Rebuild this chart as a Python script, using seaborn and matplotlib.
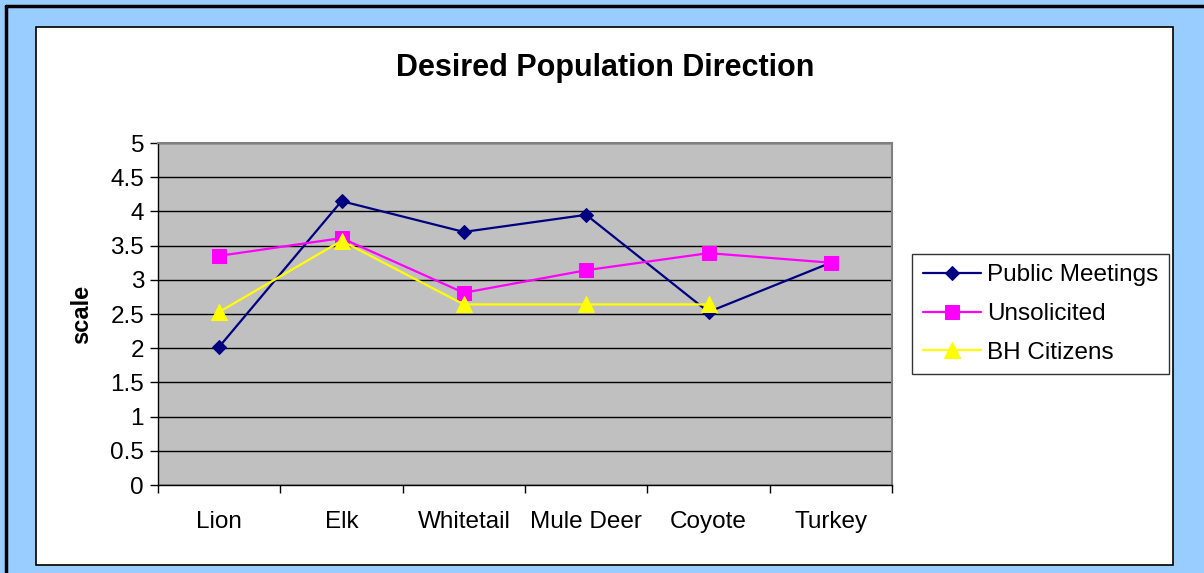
import matplotlib.pyplot as plt
import matplotlib.patches as mpatches
import numpy as np
import pandas as pd
import seaborn as sns

# Chart data
species = ["Lion", "Elk", "Whitetail", "Mule Deer", "Coyote", "Turkey"]
public_meetings = [2.02, 4.15, 3.70, 3.95, 2.53, 3.25]
unsolicited = [3.35, 3.61, 2.81, 3.14, 3.39, 3.25]
bh_citizens = [2.53, 3.57, 2.64, 2.64, 2.64, np.nan]

series_names = ["Public Meetings", "Unsolicited", "BH Citizens"]
series_colors = ["#000080", "#FF00FF", "#FFFF00"]
series_markers = ["D", "s", "^"]
marker_sizes = [7.5, 9.5, 11]

sns.set_theme(style="white")
plt.rcParams["font.family"] = ["Liberation Sans", "DejaVu Sans"]
plt.rcParams["text.color"] = "black"
plt.rcParams["xtick.color"] = "black"
plt.rcParams["ytick.color"] = "black"
plt.rcParams["axes.labelcolor"] = "black"

fig = plt.figure(figsize=(12.04, 5.73), dpi=100)
W, H = 1204, 573

# outer blue frame + inner white panel
fig.patch.set_facecolor("#99CCFF")
fig.add_artist(plt.Line2D([6 / W, 6 / W], [0, 1 - 6 / H], color="black", lw=2.5, transform=fig.transFigure))
fig.add_artist(plt.Line2D([6 / W, 1], [1 - 6 / H, 1 - 6 / H], color="black", lw=2.5, transform=fig.transFigure))
fig.add_artist(mpatches.Rectangle((36 / W, 1 - 565 / H), (1173 - 36) / W, (565 - 27) / H,
                                  transform=fig.transFigure, facecolor="white",
                                  edgecolor="black", lw=1.2, zorder=0))

ax = fig.add_axes([158 / W, 1 - 485 / H, (892 - 158) / W, (485 - 143) / H])
ax.set_facecolor("#C0C0C0")

df = pd.DataFrame({
    "x": np.tile(np.arange(len(species)), 3),
    "value": public_meetings + unsolicited + bh_citizens,
    "series": np.repeat(series_names, len(species)),
})

for name, color, marker, ms in zip(series_names, series_colors, series_markers, marker_sizes):
    sub = df[df["series"] == name].dropna()
    sns.lineplot(data=sub, x="x", y="value", ax=ax, color=color, marker=marker,
                 markersize=ms, markeredgecolor=color, linewidth=1.6, label=name,
                 zorder=3)

ax.set_xlim(-0.5, len(species) - 0.5)
ax.set_ylim(0, 5)
ax.set_yticks(np.arange(0, 5.01, 0.5))
ax.set_yticklabels([f"{v:g}" for v in np.arange(0, 5.01, 0.5)], fontsize=17.5)
ax.yaxis.grid(True, color="black", lw=1)
ax.set_axisbelow(True)

ax.set_xticks(np.arange(-0.5, len(species), 1.0))
ax.set_xticklabels([])
ax.set_xticks(np.arange(len(species)), minor=True)
ax.set_xticklabels(species, minor=True, fontsize=17.5)
ax.tick_params(axis="x", which="major", direction="out", length=6, color="black", width=1, bottom=True)
ax.tick_params(axis="x", which="minor", length=0, pad=19)
ax.tick_params(axis="y", direction="out", length=6, color="black", width=1, left=True, pad=4)

for side in ["top", "right"]:
    ax.spines[side].set_color("#808080")
    ax.spines[side].set_linewidth(1.5)
for side in ["left", "bottom"]:
    ax.spines[side].set_color("black")
    ax.spines[side].set_linewidth(1)

ax.set_xlabel("")
ax.set_ylabel("scale", fontsize=17, fontweight="bold", labelpad=12)

fig.text(605 / W, 1 - 68 / H, "Desired Population Direction", fontsize=22,
         fontweight="bold", ha="center", va="center")

leg = ax.legend(loc="center left", bbox_to_anchor=(1.027, 0.5), fontsize=17.5,
                frameon=True, fancybox=False, edgecolor="black", facecolor="white",
                handlelength=2.4, handletextpad=0.25, labelspacing=0.68, borderpad=0.45,
                borderaxespad=0)
leg.get_frame().set_linewidth(1)

fig.savefig("out.png", dpi=100, facecolor=fig.get_facecolor())
